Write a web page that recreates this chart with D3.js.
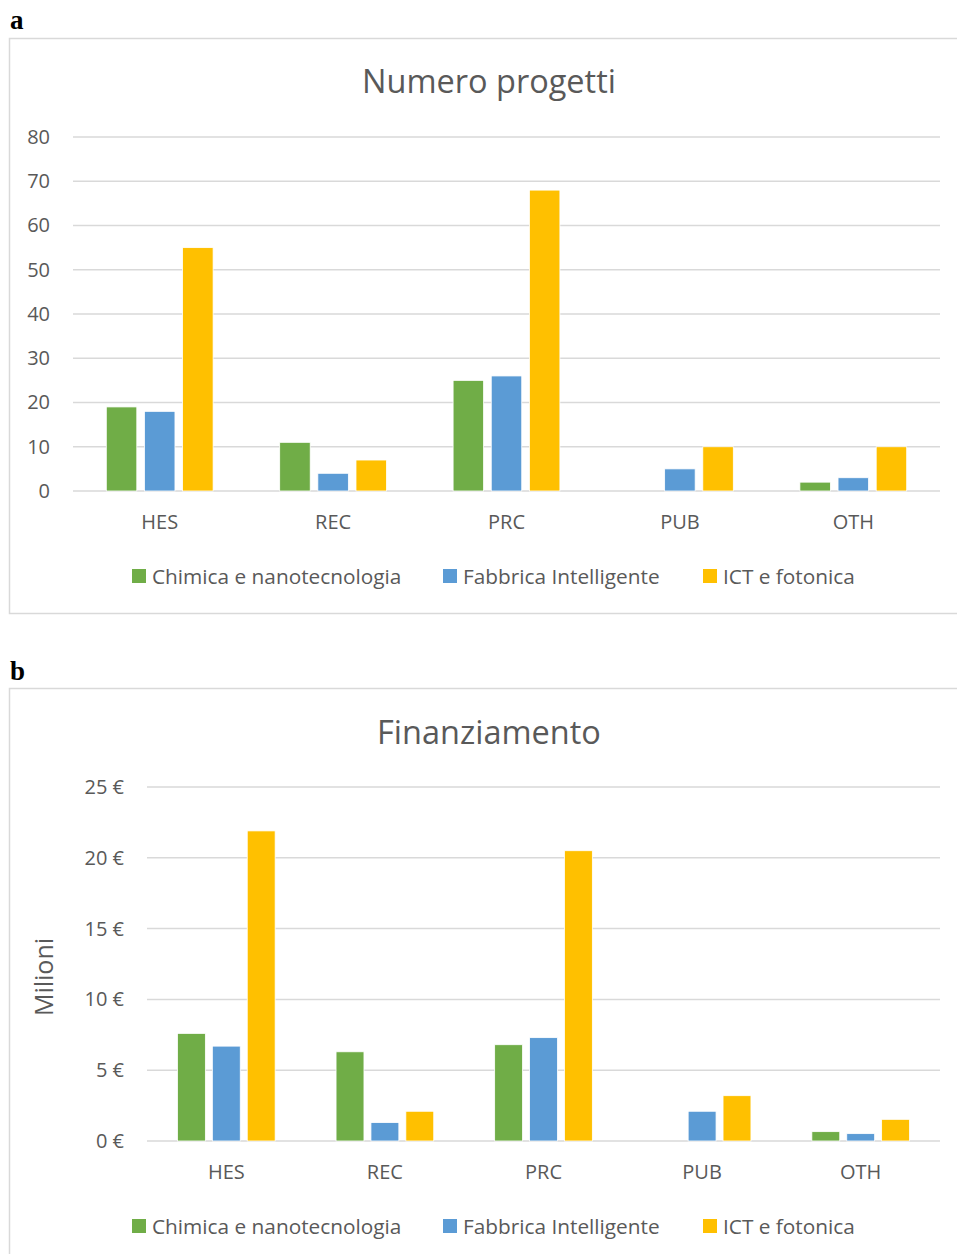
<!DOCTYPE html>
<html>
<head>
<meta charset="utf-8">
<script src="https://cdn.jsdelivr.net/npm/d3@7"></script>
<style>
  html, body { margin: 0; padding: 0; background: #fff; }
  svg { display: block; }
  text { font-family: "Open Sans", sans-serif; fill: #595959; }
</style>
</head>
<body>
<svg id="fig" width="957" height="1254"></svg>
<script>
// Categorie di partecipanti e aree tematiche
const categories = ["HES", "REC", "PRC", "PUB", "OTH"];
const seriesNames = ["Chimica e nanotecnologia", "Fabbrica Intelligente", "ICT e fotonica"];
const seriesColors = ["#70ad47", "#5b9bd5", "#ffc000"];

// (a) Numero progetti
const progettiChimica = [19, 11, 25, 0, 2];
const progettiFabbrica = [18, 4, 26, 5, 3];
const progettiICT = [55, 7, 68, 10, 10];
const progettiTicks = [0, 10, 20, 30, 40, 50, 60, 70, 80];

// (b) Finanziamento, milioni di euro
const finChimica = [7.6, 6.3, 6.8, 0, 0.66];
const finFabbrica = [6.7, 1.3, 7.3, 2.1, 0.52];
const finICT = [21.9, 2.1, 20.5, 3.2, 1.53];
const finTicks = [0, 5, 10, 15, 20, 25];

const svg = d3.select("#fig");
const grid = "#d9d9d9";

function panel(cfg) {
  const g = svg.append("g");
  // cornice del grafico
  g.append("rect")
    .attr("x", 9.5).attr("y", cfg.boxTop + 0.5)
    .attr("width", 960).attr("height", cfg.boxHeight)
    .attr("fill", "none").attr("stroke", grid).attr("stroke-width", 1.5);

  // lettera del pannello
  g.append("text")
    .attr("x", 10).attr("y", cfg.letterY)
    .style("font-family", "'Liberation Serif', 'Times New Roman', serif")
    .style("font-weight", "bold").style("font-size", "27px").style("fill", "#000")
    .text(cfg.letter);

  // titolo
  g.append("text")
    .attr("x", 489).attr("y", cfg.titleY)
    .attr("text-anchor", "middle")
    .style("font-size", "32.5px")
    .text(cfg.title);

  const x0 = d3.scaleBand().domain(categories).range([cfg.left, 940]).padding(0);
  const bw = x0.bandwidth();
  const groupW = bw * 0.616;
  const x1 = d3.scaleBand().domain(seriesNames)
    .range([(bw - groupW) / 2, (bw + groupW) / 2])
    .paddingInner(0.2).paddingOuter(0);
  const y = d3.scaleLinear().domain(cfg.domain).range([cfg.bottom, cfg.top]);

  // griglia orizzontale
  g.append("g").selectAll("line").data(cfg.ticks).join("line")
    .attr("x1", cfg.left).attr("x2", 940)
    .attr("y1", d => y(d)).attr("y2", d => y(d))
    .attr("stroke", grid).attr("stroke-width", 1.5);

  // etichette asse Y
  const yAxis = d3.axisLeft(y).tickValues(cfg.ticks).tickSize(0).tickPadding(23)
    .tickFormat(cfg.fmt);
  const ya = g.append("g").attr("transform", `translate(${cfg.left},0)`).call(yAxis);
  ya.select(".domain").remove();
  ya.selectAll("text").style("font-size", "20px").style("font-family", "'Open Sans', sans-serif")
    .attr("fill", "#595959");

  // barre
  const rows = categories.map((c, i) => ({ c, vals: cfg.series.map((s, k) => ({ name: seriesNames[k], v: s[i], col: seriesColors[k] })) }));
  g.append("g").selectAll("g").data(rows).join("g")
    .attr("transform", d => `translate(${x0(d.c)},0)`)
    .selectAll("rect").data(d => d.vals.filter(v => v.v > 0)).join("rect")
    .attr("x", d => x1(d.name))
    .attr("width", x1.bandwidth())
    .attr("y", d => y(d.v))
    .attr("height", d => y(0) - y(d.v))
    .attr("fill", d => d.col)
    .attr("stroke", "#ffffff").attr("stroke-width", 0.8);

  // etichette categorie
  const xAxis = d3.axisBottom(x0).tickSize(0).tickPadding(0);
  const xa = g.append("g").attr("transform", `translate(0,${cfg.catY})`).call(xAxis);
  xa.select(".domain").remove();
  xa.selectAll("text").style("font-size", "20px").style("font-family", "'Open Sans', sans-serif")
    .attr("fill", "#595959").attr("dy", 0).attr("y", 0);

  // legenda
  const legX = [132, 443, 703];
  const leg = g.append("g").selectAll("g").data(seriesNames).join("g")
    .attr("transform", (d, i) => `translate(${legX[i]},${cfg.legY})`);
  leg.append("rect").attr("x", 0).attr("y", -7).attr("width", 14).attr("height", 14)
    .attr("fill", (d, i) => seriesColors[i]);
  leg.append("text").attr("x", 20).attr("y", 7.5).style("font-size", "20.8px").text(d => d);

  if (cfg.yLabel) {
    g.append("text")
      .attr("transform", `translate(${cfg.yLabelX},${cfg.yLabelY}) rotate(-90)`)
      .attr("text-anchor", "middle")
      .style("font-size", "25px")
      .text(cfg.yLabel);
  }
}

panel({
  letter: "a", letterY: 29, boxTop: 38, boxHeight: 575,
  title: "Numero progetti", titleY: 93,
  left: 73, top: 137, bottom: 491, domain: [0, 80], ticks: progettiTicks,
  fmt: d3.format("d"),
  series: [progettiChimica, progettiFabbrica, progettiICT],
  catY: 529, legY: 576
});

panel({
  letter: "b", letterY: 680, boxTop: 688, boxHeight: 600,
  title: "Finanziamento", titleY: 744,
  left: 147, top: 787, bottom: 1141, domain: [0, 25], ticks: finTicks,
  fmt: d => d + " €",
  series: [finChimica, finFabbrica, finICT],
  catY: 1179, legY: 1226,
  yLabel: "Milioni", yLabelX: 53, yLabelY: 977
});
</script>
</body>
</html>
